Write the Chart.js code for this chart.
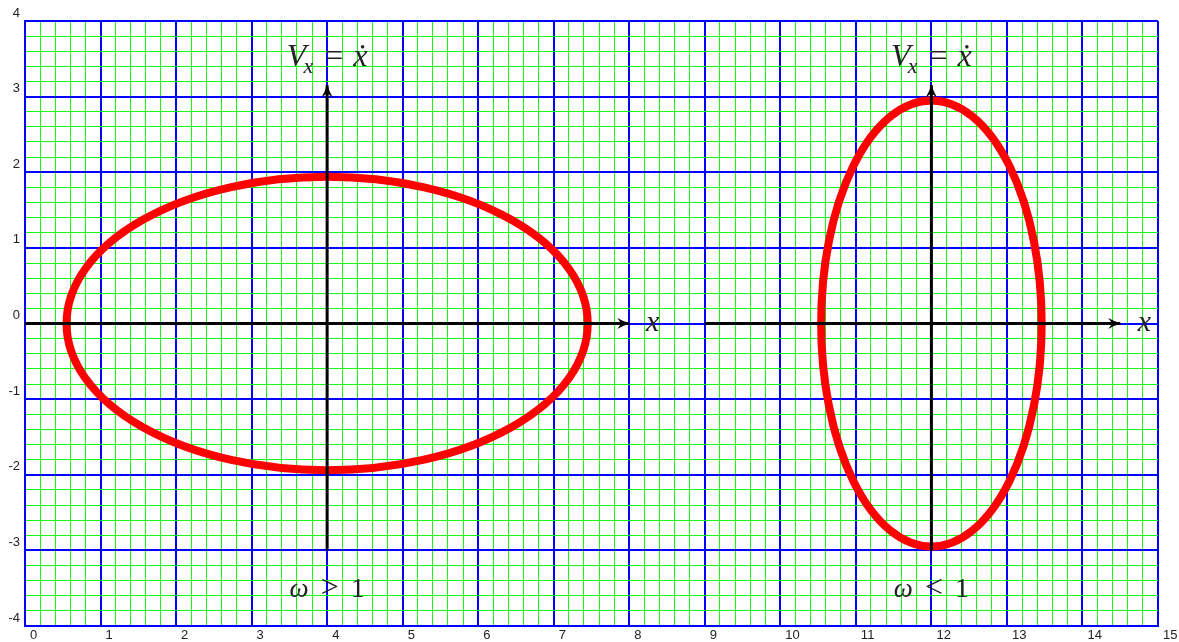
<!DOCTYPE html>
<html lang="ja">
<head>
<meta charset="utf-8">
<title>位相平面の楕円軌道</title>
<script src="https://cdn.jsdelivr.net/npm/chart.js@4.4.0/dist/chart.umd.min.js"></script>
<style>
  html, body { margin: 0; padding: 0; background: #fff; }
  #wrap { position: relative; width: 1179px; height: 642px; }
</style>
</head>
<body>
<div id="wrap"><canvas id="phase"></canvas></div>
<script>
// 軸の範囲と目盛りラベル
const xRange = [0, 15];
const yRange = [-4, 4];
const xTickLabels = ['0', '1', '2', '3', '4', '5', '6', '7', '8', '9', '10', '11', '12', '13', '14', '15'];
const yTickLabels = ['-4', '-3', '-2', '-1', '0', '1', '2', '3', '4'];
const minorStep = 0.2;

// 楕円軌道（中心と半径）: 左が ω > 1、右が ω < 1
const ellipseCenterX = [4, 12];
const ellipseCenterY = [0, 0];
const ellipseSemiX = [3.45, 1.46];
const ellipseSemiY = [1.94, 2.95];

// 座標軸の矢印（x 軸は y = 0 上、縦軸は Vx）
const horizAxisFrom = [0, 9];
const horizAxisTo = [8, 14.5];
const vertAxisX = [4, 12];
const vertAxisFrom = [-3, -3];
const vertAxisTo = [3.15, 3.15];

const BLUE = 'rgb(0, 0, 255)';
const GREEN = 'rgb(20, 250, 20)';
const RED = 'rgb(255, 0, 0)';
const INK = '#222';
const TICK_FONT = '"Liberation Sans", Arial, sans-serif';
const MATH_FONT = '"Liberation Serif", "DejaVu Serif", serif';

// 数式ラベル: 各要素は [文字列, イタリックか, サイズ, ベースラインのずれ, 前の間隔]
const annotations = [
  { x: 4, y: 3.4, parts: [['V', true, 32, 0, 0], ['x', true, 22, 7, -3], ['=', false, 32, 0, 12], ['ẋ', true, 32, 0, 10]] },
  { x: 12, y: 3.4, parts: [['V', true, 32, 0, 0], ['x', true, 22, 7, -3], ['=', false, 32, 0, 12], ['ẋ', true, 32, 0, 10]] },
  { x: 4, y: -3.62, parts: [['ω', true, 27, 0, 0], ['>', false, 32, 0, 12], ['1', false, 28, 0, 12]] },
  { x: 12, y: -3.62, parts: [['ω', true, 27, 0, 0], ['<', false, 32, 0, 12], ['1', false, 28, 0, 12]] },
  { x: 8.31, y: -0.1, parts: [['x', true, 30, 0, 0]] },
  { x: 14.82, y: -0.1, parts: [['x', true, 30, 0, 0]] },
];

const isMajor = (v) => Math.abs(v - Math.round(v)) < 1e-6;

const gridColor = (ctx) => (ctx.tick && isMajor(ctx.tick.value) ? BLUE : GREEN);
const gridWidth = (ctx) => (ctx.tick && isMajor(ctx.tick.value) ? 2 : 1);

const axisDatasets = [
  ...horizAxisFrom.map((x0, i) => [{ x: x0, y: 0 }, { x: horizAxisTo[i], y: 0 }]),
  ...vertAxisX.map((x, i) => [{ x, y: vertAxisFrom[i] }, { x, y: vertAxisTo[i] }]),
].map((data) => ({
  data,
  showLine: true,
  borderColor: '#000',
  borderWidth: 3,
  borderCapStyle: 'butt',
  pointRadius: 0,
  pointHoverRadius: 0,
}));

/**
 * 楕円はデータセットより先（グリッドの上、軸の下）に描く。
 */
const ellipsePlugin = {
  id: 'ellipses',
  beforeDatasetsDraw(chart) {
    const { ctx, scales: { x, y } } = chart;
    ctx.save();
    ctx.strokeStyle = RED;
    ctx.lineWidth = 8;
    ellipseCenterX.forEach((cx, i) => {
      const cy = ellipseCenterY[i];
      const px = x.getPixelForValue(cx);
      const py = y.getPixelForValue(cy);
      const rx = x.getPixelForValue(cx + ellipseSemiX[i]) - px;
      const ry = py - y.getPixelForValue(cy + ellipseSemiY[i]);
      ctx.beginPath();
      ctx.ellipse(px, py, rx, ry, 0, 0, Math.PI * 2);
      ctx.stroke();
    });
    ctx.restore();
  },
};

/**
 * 各軸データセットの終点に矢じりを付ける。
 */
const arrowPlugin = {
  id: 'arrowHeads',
  afterDatasetsDraw(chart) {
    const { ctx } = chart;
    chart.data.datasets.forEach((ds, i) => {
      const pts = chart.getDatasetMeta(i).data;
      if (pts.length < 2) return;
      const a = pts[pts.length - 2];
      const b = pts[pts.length - 1];
      const angle = Math.atan2(b.y - a.y, b.x - a.x);
      ctx.save();
      ctx.translate(b.x, b.y);
      ctx.rotate(angle);
      ctx.beginPath();
      ctx.moveTo(1, 0);
      ctx.quadraticCurveTo(-5, -1.5, -12, -5.5);
      ctx.lineTo(-8, 0);
      ctx.lineTo(-12, 5.5);
      ctx.quadraticCurveTo(-5, 1.5, 1, 0);
      ctx.closePath();
      ctx.fillStyle = '#000';
      ctx.fill();
      ctx.restore();
    });
  },
};

/**
 * 数式風ラベルを中央揃えで描く。
 */
const labelPlugin = {
  id: 'mathLabels',
  afterDraw(chart) {
    const { ctx, scales: { x, y } } = chart;
    ctx.save();
    ctx.fillStyle = INK;
    ctx.textBaseline = 'alphabetic';
    ctx.textAlign = 'left';
    const fontOf = (p) => `${p[1] ? 'italic ' : ''}${p[2]}px ${MATH_FONT}`;
    annotations.forEach((ann) => {
      let total = 0;
      const widths = ann.parts.map((p) => {
        ctx.font = fontOf(p);
        const w = ctx.measureText(p[0]).width;
        total += p[4] + w;
        return w;
      });
      let cursor = x.getPixelForValue(ann.x) - total / 2;
      const base = y.getPixelForValue(ann.y);
      ann.parts.forEach((p, k) => {
        cursor += p[4];
        ctx.font = fontOf(p);
        ctx.fillText(p[0], cursor, base + p[3]);
        cursor += widths[k];
      });
    });
    ctx.restore();
  },
};

new Chart(document.getElementById('phase'), {
  type: 'scatter',
  data: { datasets: axisDatasets },
  plugins: [ellipsePlugin, arrowPlugin, labelPlugin],
  options: {
    responsive: true,
    maintainAspectRatio: false,
    animation: false,
    layout: { padding: { top: 21, right: 21, left: 0, bottom: 0 } },
    plugins: { legend: { display: false }, tooltip: { enabled: false } },
    scales: {
      x: {
        type: 'linear',
        min: xRange[0],
        max: xRange[1],
        afterFit: (scale) => { scale.height = 16; },
        grid: { color: gridColor, lineWidth: gridWidth, drawTicks: false },
        border: { display: true, color: BLUE, width: 2 },
        ticks: {
          stepSize: minorStep,
          autoSkip: false,
          maxRotation: 0,
          align: 'start',
          labelOffset: 5,
          padding: 2,
          color: INK,
          font: { family: TICK_FONT, size: 13 },
          callback: (v) => (isMajor(v) ? xTickLabels[Math.round(v) - xRange[0]] : ''),
        },
      },
      y: {
        type: 'linear',
        min: yRange[0],
        max: yRange[1],
        afterFit: (scale) => { scale.width = 25; },
        grid: { color: gridColor, lineWidth: gridWidth, drawTicks: false },
        border: { display: true, color: BLUE, width: 2 },
        ticks: {
          stepSize: minorStep,
          autoSkip: false,
          labelOffset: -8,
          padding: 5,
          color: INK,
          font: { family: TICK_FONT, size: 13 },
          callback: (v) => (isMajor(v) ? yTickLabels[Math.round(v) - yRange[0]] : ''),
        },
      },
    },
  },
});
</script>
</body>
</html>
